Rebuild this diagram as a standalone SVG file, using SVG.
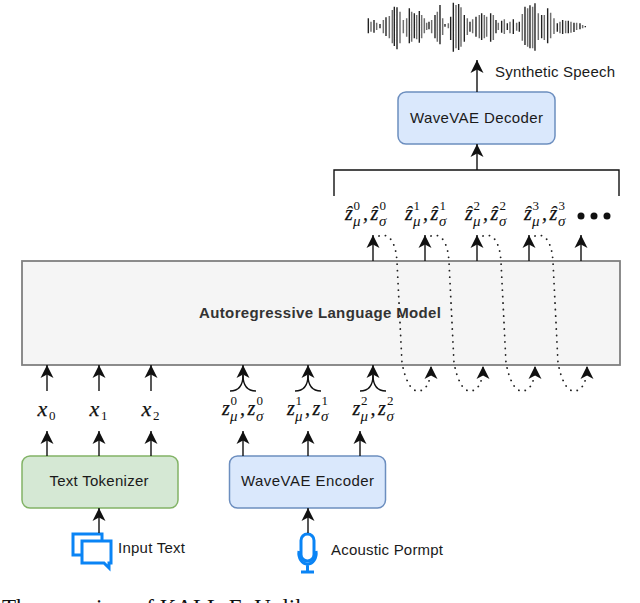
<svg xmlns="http://www.w3.org/2000/svg" width="640" height="603" viewBox="0 0 640 603">
<style>
text{font-family:"Liberation Sans",Arial,sans-serif;fill:#1a1a1a}
.lb{font-size:15px}
.c{text-anchor:middle}
.blue{fill:#dae8fc;stroke:#6c8ebf;stroke-width:1.5}
.green{fill:#d5e8d4;stroke:#82b366;stroke-width:1.5}
.ln{fill:none;stroke:#111;stroke-width:1.4}
.ar{fill:none;stroke:#111;stroke-width:1.4;marker-end:url(#h)}
.dot{fill:none;stroke:#222;stroke-width:1.8;stroke-linecap:round;stroke-dasharray:.1 6.4;marker-end:url(#h)}
.ic{fill:none;stroke:#0a84f5;stroke-width:3}
.m{font-family:"Liberation Serif","Times New Roman",serif;font-style:italic;font-size:20px;fill:#111;stroke:#111;stroke-width:.25}
.x{font-size:22px}
.s{font-family:"Liberation Serif","Times New Roman",serif;font-size:13px;fill:#111}
.g{font-family:"Liberation Serif","Times New Roman",serif;font-style:italic;font-size:15px;fill:#111}
</style>
<defs>
<marker id="h" markerUnits="userSpaceOnUse" markerWidth="15" markerHeight="15" viewBox="0 0 15 15" refX="13.500" refY="7.500" orient="auto">
<path d="M13.500 7.500L.5 1L4 7.500L.5 14Z" fill="#111"/>
</marker>
</defs>

<g id="waveform" fill="none" transform="translate(360 10) scale(.3333)">
<path stroke="#6f6f6f" stroke-width="4.4" d="M33 35V65M50 38V60M70 30V70M88 18V85M97 0V100M120 5V100M130 30V70M140 25V80M155 5V95M170 15V88M185 15V85M193 25V70M200 38V60M215 30V70M232 5V95M248 25V75M265 40V55M288 -15V115M303 -8V110M322 25V75M338 28V70M358 15V85M373 15V85M380 20V80M400 15V90M415 38V60M433 28V72M450 35V70M470 38V62M487 12V92M503 -5V110M518 -10V115M535 10V90M553 15V90M572 8V85M582 25V72M600 35V70M617 32V70M633 35V68M650 38V60M668 45V55"/>
<path stroke="#222" stroke-width="4.2" d="M25 25V70M42 30V68M60 42V55M78 22V78M103 -10V108M111 -8V118M148 -5V100M163 10V85M178 3V98M207 35V58M225 15V85M240 -15V103M255 42V50M272 20V90M280 -22V125M296 -18V120M313 15V95M330 35V65M348 20V80M365 10V90M392 10V95M408 30V70M425 32V68M442 40V60M460 28V72M478 35V65M495 -10V105M510 -14V115M525 -20V122M545 15V85M563 -5V100M592 40V65M608 30V72M625 32V70M642 38V66M660 40V58M676 48V52"/>
</g>

<g id="model">
<rect x="22" y="261" width="598" height="104" fill="#f5f5f5" stroke="#808080" stroke-width="1.8"/>
<text x="320" y="318" class="c" font-size="15" font-weight="bold" style="fill:#333" textLength="242">Autoregressive Language Model</text>
</g>
<g id="decoder">
<rect class="blue" x="398" y="92" width="157" height="52" rx="8"/>
<text class="lb c" x="476.500" y="123" textLength="133">WaveVAE Decoder</text>
</g>
<g id="tokenizer">
<rect class="green" x="22" y="456" width="156" height="52" rx="8"/>
<text class="lb c" x="99" y="486" textLength="99">Text Tokenizer</text>
</g>
<g id="encoder">
<rect class="blue" x="229.500" y="456" width="156" height="52" rx="8"/>
<text class="lb c" x="307.500" y="486" textLength="133">WaveVAE Encoder</text>
</g>
<g id="speech-label"><text class="lb" x="495" y="77" textLength="120">Synthetic Speech</text></g>
<g id="input-text">
<path class="ic" d="M82 555H73V534H102V541"/>
<path class="ic" d="M82 541H111V563H109V568L104 563H82Z"/>
<text class="lb" x="118" y="553" textLength="67">Input Text</text>
</g>
<g id="acoustic-prompt">
<rect class="ic" x="301" y="534" width="13" height="27" rx="6.500"/>
<path class="ic" d="M299 551C298 558 302 564 307.500 564C313 564 317 558 316 551M307.500 564V572M301 572H314"/>
<text class="lb" x="331" y="555" textLength="112">Acoustic Pormpt</text>
</g>

<g id="connectors">
<path class="ar" d="M477 92V60"/>
<path class="ar" d="M477 170V144"/>
<path class="ln" d="M334 196V170H619V196"/>
<path class="ar" d="M373 261V235"/>
<path class="ar" d="M425 261V235"/>
<path class="ar" d="M477 261V235"/>
<path class="ar" d="M529 261V235"/>
<path class="ar" d="M581 261V235"/>
<path class="dot" d="M379 236C390 232 396 244 397 262L402 363C405 378 410 391 418 391C426 391 431 382 431 366"/>
<path class="dot" d="M431 236C442 232 448 244 449 262L454 363C457 378 462 391 470 391C478 391 483 382 483 366"/>
<path class="dot" d="M483 236C494 232 500 244 501 262L506 363C509 378 514 391 522 391C530 391 535 382 535 366"/>
<path class="dot" d="M535 236C546 232 552 244 553 262L558 363C561 378 566 391 574 391C582 391 587 382 587 366"/>
<path class="ar" d="M47 391V365"/>
<path class="ar" d="M99 391V365"/>
<path class="ar" d="M151 391V365"/>
<path class="ar" d="M47 456V431"/>
<path class="ar" d="M99 456V431"/>
<path class="ar" d="M151 456V431"/>
<path class="ar" d="M243 456V431"/>
<path class="ar" d="M308 456V431"/>
<path class="ar" d="M360 456V431"/>
<path class="ar" d="M243 380V365"/>
<path class="ln" d="M230 391C238 391 243 387 243 375C243 387 248 391 256 391"/>
<path class="ar" d="M308 380V365"/>
<path class="ln" d="M295 391C303 391 308 387 308 375C308 387 313 391 321 391"/>
<path class="ar" d="M373 380V365"/>
<path class="ln" d="M360 391C368 391 373 387 373 375C373 387 378 391 386 391"/>
<path class="ar" d="M99 533V508"/>
<path class="ar" d="M308 533V508"/>
</g>

<g id="x-labels">
<text class="m x" x="37.500" y="416">x</text><text class="s" x="49" y="420">0</text>
<text class="m x" x="89.500" y="416">x</text><text class="s" x="101" y="420">1</text>
<text class="m x" x="141.500" y="416">x</text><text class="s" x="153" y="420">2</text>
</g>
<g id="z-labels">
<g transform="translate(243 0)"><text class="m" x="-21" y="415">z</text><text class="s" x="-12.500" y="405">0</text><text class="g" x="-13" y="421">μ</text><text class="m" x="-3" y="415">,</text><text class="m" x="4.500" y="415">z</text><text class="s" x="13.500" y="405">0</text><text class="g" x="13" y="421">σ</text></g>
<g transform="translate(308 0)"><text class="m" x="-21" y="415">z</text><text class="s" x="-12.500" y="405">1</text><text class="g" x="-13" y="421">μ</text><text class="m" x="-3" y="415">,</text><text class="m" x="4.500" y="415">z</text><text class="s" x="13.500" y="405">1</text><text class="g" x="13" y="421">σ</text></g>
<g transform="translate(373.500 0)"><text class="m" x="-21" y="415">z</text><text class="s" x="-12.500" y="405">2</text><text class="g" x="-13" y="421">μ</text><text class="m" x="-3" y="415">,</text><text class="m" x="4.500" y="415">z</text><text class="s" x="13.500" y="405">2</text><text class="g" x="13" y="421">σ</text></g>
</g>
<g id="zhat-labels">
<g transform="translate(366 0)"><text class="m" x="-21" y="220">ẑ</text><text class="s" x="-12.500" y="210">0</text><text class="g" x="-13" y="226">μ</text><text class="m" x="-3" y="220">,</text><text class="m" x="4.500" y="220">ẑ</text><text class="s" x="13.500" y="210">0</text><text class="g" x="13" y="226">σ</text></g>
<g transform="translate(426 0)"><text class="m" x="-21" y="220">ẑ</text><text class="s" x="-12.500" y="210">1</text><text class="g" x="-13" y="226">μ</text><text class="m" x="-3" y="220">,</text><text class="m" x="4.500" y="220">ẑ</text><text class="s" x="13.500" y="210">1</text><text class="g" x="13" y="226">σ</text></g>
<g transform="translate(486 0)"><text class="m" x="-21" y="220">ẑ</text><text class="s" x="-12.500" y="210">2</text><text class="g" x="-13" y="226">μ</text><text class="m" x="-3" y="220">,</text><text class="m" x="4.500" y="220">ẑ</text><text class="s" x="13.500" y="210">2</text><text class="g" x="13" y="226">σ</text></g>
<g transform="translate(545 0)"><text class="m" x="-21" y="220">ẑ</text><text class="s" x="-12.500" y="210">3</text><text class="g" x="-13" y="226">μ</text><text class="m" x="-3" y="220">,</text><text class="m" x="4.500" y="220">ẑ</text><text class="s" x="13.500" y="210">3</text><text class="g" x="13" y="226">σ</text></g>
<g id="ellipsis" fill="#111"><circle cx="581" cy="216" r="3.500"/><circle cx="594" cy="216" r="3.500"/><circle cx="607" cy="216" r="3.500"/></g>
</g>
<text x="2" y="615" font-size="23" style="font-family:'Liberation Serif','Times New Roman',serif;fill:#111">The overview of KALL-E. Unlike</text>
</svg>
